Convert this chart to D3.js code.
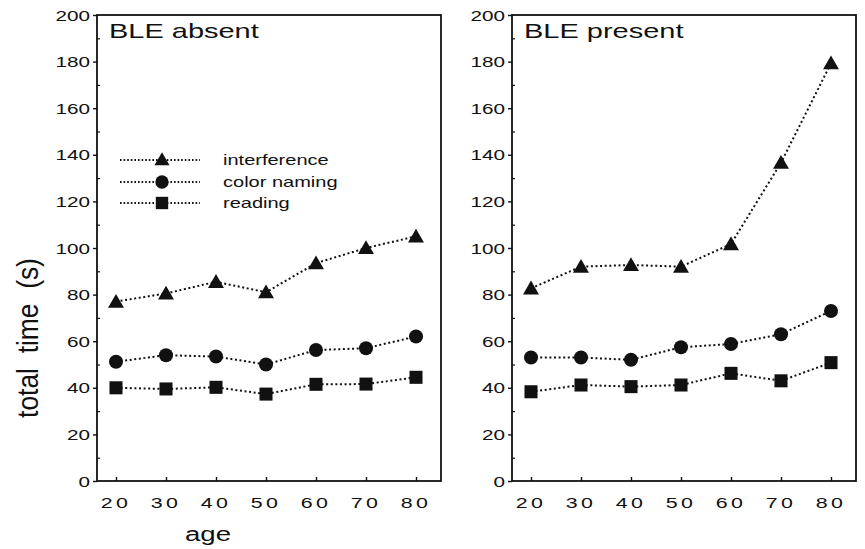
<!DOCTYPE html>
<html><head><meta charset="utf-8">
<script src="https://cdn.jsdelivr.net/npm/d3@7"></script>
<style>body{margin:0;background:#fff}svg{display:block}text{font-family:"Liberation Sans",Arial,sans-serif;fill:#111}</style>
</head><body>
<svg id="c" width="865" height="549"></svg>
<script>
const ages = [20, 30, 40, 50, 60, 70, 80];
const yTicks = [0, 20, 40, 60, 80, 100, 120, 140, 160, 180, 200];
const seriesNames = ["interference", "color naming", "reading"];
const panelTitles = ["BLE absent", "BLE present"];
// BLE absent
const absentInterference = [77, 80.5, 85.5, 81, 93.5, 100, 105];
const absentColorNaming  = [51.2, 54, 53.4, 50, 56.2, 57, 62];
const absentReading      = [40, 39.5, 40.2, 37.3, 41.5, 41.6, 44.5];
// BLE present
const presentInterference = [82.7, 92, 92.7, 92, 101.7, 136.6, 179.3];
const presentColorNaming  = [53, 53, 52, 57.4, 58.8, 63, 73];
const presentReading      = [38.3, 41.2, 40.5, 41.2, 46.2, 43, 50.8];

const panels = [
  {title: panelTitles[0], series: [absentInterference, absentColorNaming, absentReading], x0: 97},
  {title: panelTitles[1], series: [presentInterference, presentColorNaming, presentReading], x0: 512}
];
const W = 344, plotTop = 15, plotBottom = 481;
const SX = 1.38; // horizontal text stretch
const svg = d3.select("#c");
const y = d3.scaleLinear().domain([0, 200]).range([plotBottom, plotTop]);
const shapes = [d3.symbolTriangle, d3.symbolCircle, d3.symbolSquare];
const sizes = [110, 155, 170];

function stext(g, x, yy, str, size, anchor, tf) {
  const t = g.append("g").attr("transform", `translate(${x},${yy})` + (tf || ` scale(${SX},1)`));
  t.append("text").attr("text-anchor", anchor || "start").attr("font-size", size)
    .attr("xml:space", "preserve").style("white-space", "pre").text(str);
  return t;
}

panels.forEach((p, pi) => {
  const x = d3.scaleLinear().domain([16.2, 85]).range([p.x0, p.x0 + W]);
  const g = svg.append("g");
  g.append("rect").attr("x", p.x0).attr("y", plotTop).attr("width", W).attr("height", plotBottom - plotTop)
    .attr("fill", "none").attr("stroke", "#111").attr("stroke-width", 1.8);
  const ya = d3.axisLeft(y).tickValues(yTicks).tickSize(4).tickFormat("");
  const yg = g.append("g").attr("transform", `translate(${p.x0},0)`).call(ya);
  yg.select(".domain").remove();
  yg.selectAll("line").attr("stroke", "#111").attr("stroke-width", 1.4);
  const ym = d3.axisRight(y).tickValues(d3.range(10, 200, 20)).tickSize(3).tickFormat("");
  const ymg = g.append("g").attr("transform", `translate(${p.x0},0)`).call(ym);
  ymg.select(".domain").remove();
  ymg.selectAll("line").attr("stroke", "#111").attr("stroke-width", 1.2);
  yTicks.forEach(v => stext(g, p.x0 - 7, y(v) + 5.5, String(v), 15, "end"));
  const xa = d3.axisTop(x).tickValues(ages).tickSize(4).tickFormat("");
  const xg = g.append("g").attr("transform", `translate(0,${plotBottom})`).call(xa);
  xg.select(".domain").remove();
  xg.selectAll("line").attr("stroke", "#111").attr("stroke-width", 1.4);
  ages.forEach(v => {
    const t = stext(g, x(v), 508, String(v), 15.5, "middle");
    t.select("text").attr("letter-spacing", 2.5);
  });
  stext(g, p.x0 + 12, 38, p.title, 21, "start");
  const line = d3.line().x((d, i) => x(ages[i])).y(d => y(d));
  p.series.forEach((s, si) => {
    g.append("path").datum(s).attr("d", line).attr("fill", "none").attr("stroke", "#111")
      .attr("stroke-width", 2).attr("stroke-dasharray", "2,2.6");
  });
  p.series.forEach((s, si) => {
    g.selectAll(null).data(s).enter().append("path")
      .attr("d", d3.symbol().type(shapes[si]).size(sizes[si]))
      .attr("transform", (d, i) => `translate(${x(ages[i])},${y(d) + (si === 0 ? 1.5 : 0)})`)
      .attr("fill", "#111");
  });
  if (pi === 0) {
    const ly = [160, 182, 203];
    seriesNames.forEach((n, si) => {
      g.append("line").attr("x1", 120).attr("x2", 200).attr("y1", ly[si]).attr("y2", ly[si])
        .attr("stroke", "#111").attr("stroke-width", 1.8).attr("stroke-dasharray", "1.6,2");
      g.append("path").attr("d", d3.symbol().type(shapes[si]).size(sizes[si] * 0.9))
        .attr("transform", `translate(162,${ly[si] + (si === 0 ? 1 : 0)})`).attr("fill", "#111");
      stext(g, 223, ly[si] + 5, n, 14.5, "start");
    });
    stext(g, 208, 541, "age", 20, "middle");
    stext(g, 38, 338, "total  time  (s)", 22, "middle", " rotate(-90) scale(1.2,1.35)");
  }
});
</script>
</body></html>
